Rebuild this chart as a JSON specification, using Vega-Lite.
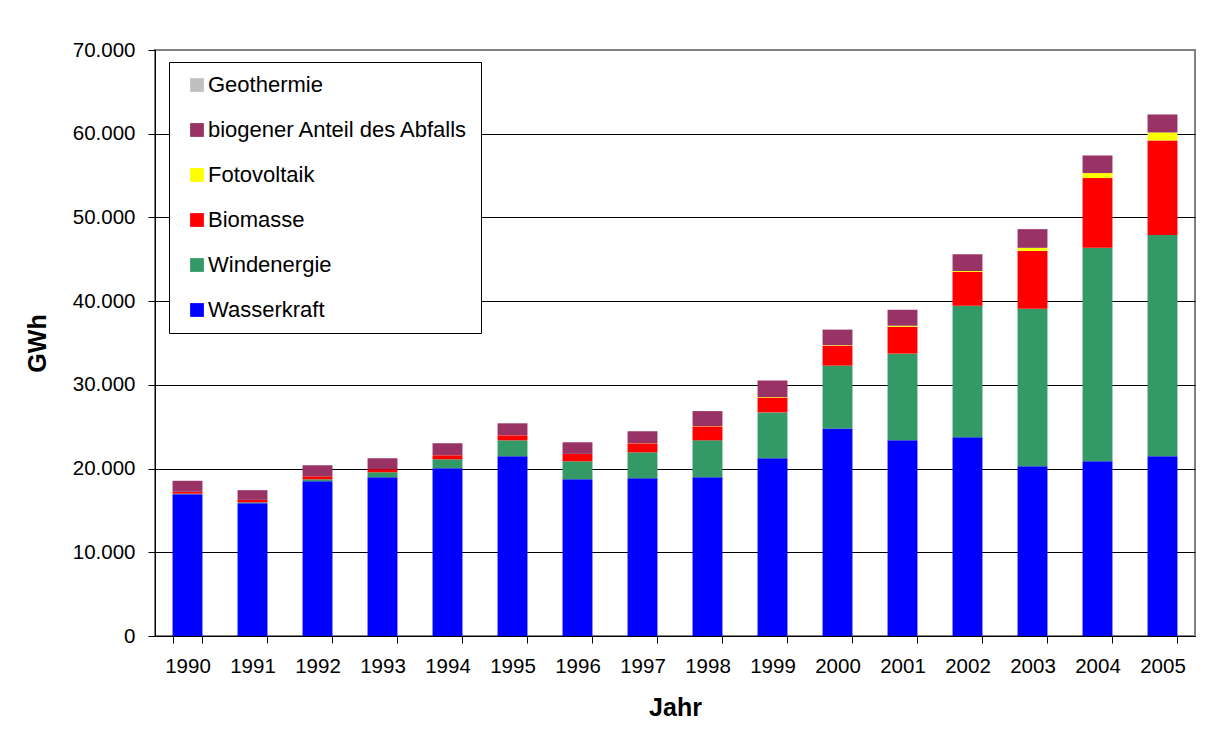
{
  "$schema": "https://vega.github.io/schema/vega-lite/v6.json",
  "autosize": {"type": "none"},
  "padding": {"left": 155, "top": 50, "right": 21, "bottom": 100},
  "width": 1040,
  "height": 586,
  "background": "white",
  "data": {
    "values": [
      {"Jahr": "1990", "Quelle": "Wasserkraft", "GWh": 16940},
      {"Jahr": "1990", "Quelle": "Windenergie", "GWh": 70},
      {"Jahr": "1990", "Quelle": "Biomasse", "GWh": 220},
      {"Jahr": "1990", "Quelle": "Fotovoltaik", "GWh": 1},
      {"Jahr": "1990", "Quelle": "biogener Anteil des Abfalls", "GWh": 1310},
      {"Jahr": "1990", "Quelle": "Geothermie", "GWh": 0},
      {"Jahr": "1991", "Quelle": "Wasserkraft", "GWh": 15870},
      {"Jahr": "1991", "Quelle": "Windenergie", "GWh": 100},
      {"Jahr": "1991", "Quelle": "Biomasse", "GWh": 290},
      {"Jahr": "1991", "Quelle": "Fotovoltaik", "GWh": 1},
      {"Jahr": "1991", "Quelle": "biogener Anteil des Abfalls", "GWh": 1160},
      {"Jahr": "1991", "Quelle": "Geothermie", "GWh": 0},
      {"Jahr": "1992", "Quelle": "Wasserkraft", "GWh": 18490},
      {"Jahr": "1992", "Quelle": "Windenergie", "GWh": 230},
      {"Jahr": "1992", "Quelle": "Biomasse", "GWh": 360},
      {"Jahr": "1992", "Quelle": "Fotovoltaik", "GWh": 3},
      {"Jahr": "1992", "Quelle": "biogener Anteil des Abfalls", "GWh": 1310},
      {"Jahr": "1992", "Quelle": "Geothermie", "GWh": 0},
      {"Jahr": "1993", "Quelle": "Wasserkraft", "GWh": 18960},
      {"Jahr": "1993", "Quelle": "Windenergie", "GWh": 600},
      {"Jahr": "1993", "Quelle": "Biomasse", "GWh": 360},
      {"Jahr": "1993", "Quelle": "Fotovoltaik", "GWh": 3},
      {"Jahr": "1993", "Quelle": "biogener Anteil des Abfalls", "GWh": 1310},
      {"Jahr": "1993", "Quelle": "Geothermie", "GWh": 0},
      {"Jahr": "1994", "Quelle": "Wasserkraft", "GWh": 20040},
      {"Jahr": "1994", "Quelle": "Windenergie", "GWh": 1070},
      {"Jahr": "1994", "Quelle": "Biomasse", "GWh": 480},
      {"Jahr": "1994", "Quelle": "Fotovoltaik", "GWh": 7},
      {"Jahr": "1994", "Quelle": "biogener Anteil des Abfalls", "GWh": 1430},
      {"Jahr": "1994", "Quelle": "Geothermie", "GWh": 0},
      {"Jahr": "1995", "Quelle": "Wasserkraft", "GWh": 21470},
      {"Jahr": "1995", "Quelle": "Windenergie", "GWh": 1900},
      {"Jahr": "1995", "Quelle": "Biomasse", "GWh": 600},
      {"Jahr": "1995", "Quelle": "Fotovoltaik", "GWh": 7},
      {"Jahr": "1995", "Quelle": "biogener Anteil des Abfalls", "GWh": 1430},
      {"Jahr": "1995", "Quelle": "Geothermie", "GWh": 0},
      {"Jahr": "1996", "Quelle": "Wasserkraft", "GWh": 18730},
      {"Jahr": "1996", "Quelle": "Windenergie", "GWh": 2140},
      {"Jahr": "1996", "Quelle": "Biomasse", "GWh": 870},
      {"Jahr": "1996", "Quelle": "Fotovoltaik", "GWh": 12},
      {"Jahr": "1996", "Quelle": "biogener Anteil des Abfalls", "GWh": 1390},
      {"Jahr": "1996", "Quelle": "Geothermie", "GWh": 0},
      {"Jahr": "1997", "Quelle": "Wasserkraft", "GWh": 18850},
      {"Jahr": "1997", "Quelle": "Windenergie", "GWh": 3090},
      {"Jahr": "1997", "Quelle": "Biomasse", "GWh": 1070},
      {"Jahr": "1997", "Quelle": "Fotovoltaik", "GWh": 18},
      {"Jahr": "1997", "Quelle": "biogener Anteil des Abfalls", "GWh": 1430},
      {"Jahr": "1997", "Quelle": "Geothermie", "GWh": 0},
      {"Jahr": "1998", "Quelle": "Wasserkraft", "GWh": 18970},
      {"Jahr": "1998", "Quelle": "Windenergie", "GWh": 4400},
      {"Jahr": "1998", "Quelle": "Biomasse", "GWh": 1670},
      {"Jahr": "1998", "Quelle": "Fotovoltaik", "GWh": 35},
      {"Jahr": "1998", "Quelle": "biogener Anteil des Abfalls", "GWh": 1790},
      {"Jahr": "1998", "Quelle": "Geothermie", "GWh": 0},
      {"Jahr": "1999", "Quelle": "Wasserkraft", "GWh": 21230},
      {"Jahr": "1999", "Quelle": "Windenergie", "GWh": 5480},
      {"Jahr": "1999", "Quelle": "Biomasse", "GWh": 1780},
      {"Jahr": "1999", "Quelle": "Fotovoltaik", "GWh": 60},
      {"Jahr": "1999", "Quelle": "biogener Anteil des Abfalls", "GWh": 1970},
      {"Jahr": "1999", "Quelle": "Geothermie", "GWh": 0},
      {"Jahr": "2000", "Quelle": "Wasserkraft", "GWh": 24800},
      {"Jahr": "2000", "Quelle": "Windenergie", "GWh": 7500},
      {"Jahr": "2000", "Quelle": "Biomasse", "GWh": 2380},
      {"Jahr": "2000", "Quelle": "Fotovoltaik", "GWh": 60},
      {"Jahr": "2000", "Quelle": "biogener Anteil des Abfalls", "GWh": 1860},
      {"Jahr": "2000", "Quelle": "Geothermie", "GWh": 0},
      {"Jahr": "2001", "Quelle": "Wasserkraft", "GWh": 23370},
      {"Jahr": "2001", "Quelle": "Windenergie", "GWh": 10360},
      {"Jahr": "2001", "Quelle": "Biomasse", "GWh": 3210},
      {"Jahr": "2001", "Quelle": "Fotovoltaik", "GWh": 120},
      {"Jahr": "2001", "Quelle": "biogener Anteil des Abfalls", "GWh": 1910},
      {"Jahr": "2001", "Quelle": "Geothermie", "GWh": 0},
      {"Jahr": "2002", "Quelle": "Wasserkraft", "GWh": 23730},
      {"Jahr": "2002", "Quelle": "Windenergie", "GWh": 15720},
      {"Jahr": "2002", "Quelle": "Biomasse", "GWh": 4050},
      {"Jahr": "2002", "Quelle": "Fotovoltaik", "GWh": 100},
      {"Jahr": "2002", "Quelle": "biogener Anteil des Abfalls", "GWh": 2000},
      {"Jahr": "2002", "Quelle": "Geothermie", "GWh": 0},
      {"Jahr": "2003", "Quelle": "Wasserkraft", "GWh": 20270},
      {"Jahr": "2003", "Quelle": "Windenergie", "GWh": 18830},
      {"Jahr": "2003", "Quelle": "Biomasse", "GWh": 6900},
      {"Jahr": "2003", "Quelle": "Fotovoltaik", "GWh": 370},
      {"Jahr": "2003", "Quelle": "biogener Anteil des Abfalls", "GWh": 2230},
      {"Jahr": "2003", "Quelle": "Geothermie", "GWh": 0},
      {"Jahr": "2004", "Quelle": "Wasserkraft", "GWh": 20870},
      {"Jahr": "2004", "Quelle": "Windenergie", "GWh": 25500},
      {"Jahr": "2004", "Quelle": "Biomasse", "GWh": 8330},
      {"Jahr": "2004", "Quelle": "Fotovoltaik", "GWh": 600},
      {"Jahr": "2004", "Quelle": "biogener Anteil des Abfalls", "GWh": 2100},
      {"Jahr": "2004", "Quelle": "Geothermie", "GWh": 0.2},
      {"Jahr": "2005", "Quelle": "Wasserkraft", "GWh": 21470},
      {"Jahr": "2005", "Quelle": "Windenergie", "GWh": 26430},
      {"Jahr": "2005", "Quelle": "Biomasse", "GWh": 11300},
      {"Jahr": "2005", "Quelle": "Fotovoltaik", "GWh": 950},
      {"Jahr": "2005", "Quelle": "biogener Anteil des Abfalls", "GWh": 2150},
      {"Jahr": "2005", "Quelle": "Geothermie", "GWh": 0.2}
    ]
  },
  "transform": [
    {
      "calculate": "indexof(['Wasserkraft', 'Windenergie', 'Biomasse', 'Fotovoltaik', 'biogener Anteil des Abfalls', 'Geothermie'], datum.Quelle)",
      "as": "Stapelfolge"
    }
  ],
  "mark": {"type": "bar", "strokeWidth": 0},
  "encoding": {
    "x": {
      "field": "Jahr",
      "type": "ordinal",
      "scale": {"paddingInner": 0.54, "paddingOuter": 0.27},
      "axis": {
        "title": "Jahr",
        "labelAngle": 0,
        "tickBand": "extent",
        "tickSize": 7,
        "tickColor": "black",
        "domainColor": "black",
        "labelPadding": 13,
        "titlePadding": 19,
        "grid": false
      }
    },
    "y": {
      "field": "GWh",
      "type": "quantitative",
      "stack": "zero",
      "scale": {"domain": [0, 70000], "nice": false},
      "axis": {
        "title": "GWh",
        "values": [0, 10000, 20000, 30000, 40000, 50000, 60000, 70000],
        "labelExpr": "replace(format(datum.value, ','), ',', '.')",
        "tickSize": 7,
        "tickColor": "black",
        "domainColor": "black",
        "labelPadding": 13,
        "titlePadding": 22,
        "grid": true,
        "gridColor": {"condition": {"test": "datum.value == 70000", "value": "#808080"}, "value": "black"},
        "gridWidth": 1
      }
    },
    "order": {"field": "Stapelfolge", "type": "quantitative", "sort": "ascending"},
    "color": {
      "field": "Quelle",
      "type": "nominal",
      "scale": {
        "domain": ["Geothermie", "biogener Anteil des Abfalls", "Fotovoltaik", "Biomasse", "Windenergie", "Wasserkraft"],
        "range": ["#C0C0C0", "#993366", "#FFFF00", "#FF0000", "#339966", "#0000FF"]
      },
      "legend": {
        "title": null,
        "orient": "none",
        "legendX": 14,
        "legendY": 12,
        "padding": 12,
        "symbolOffset": 5,
        "symbolType": "square",
        "symbolSize": 190,
        "symbolStrokeWidth": 0,
        "labelOffset": 0,
        "rowPadding": 23,
        "labelFontSize": 22,
        "labelLimit": 400,
        "strokeColor": "black",
        "fillColor": "white"
      }
    }
  },
  "config": {
    "font": "Liberation Sans",
    "view": {"stroke": "#808080", "strokeWidth": 2},
    "axis": {
      "labelFont": "Liberation Sans",
      "labelFontSize": 20.5,
      "labelColor": "black",
      "titleFont": "Liberation Sans",
      "titleFontSize": 25,
      "titleFontWeight": "bold",
      "titleColor": "black",
      "domainWidth": 1
    },
    "legend": {"labelFont": "Liberation Sans", "labelColor": "black"}
  }
}
